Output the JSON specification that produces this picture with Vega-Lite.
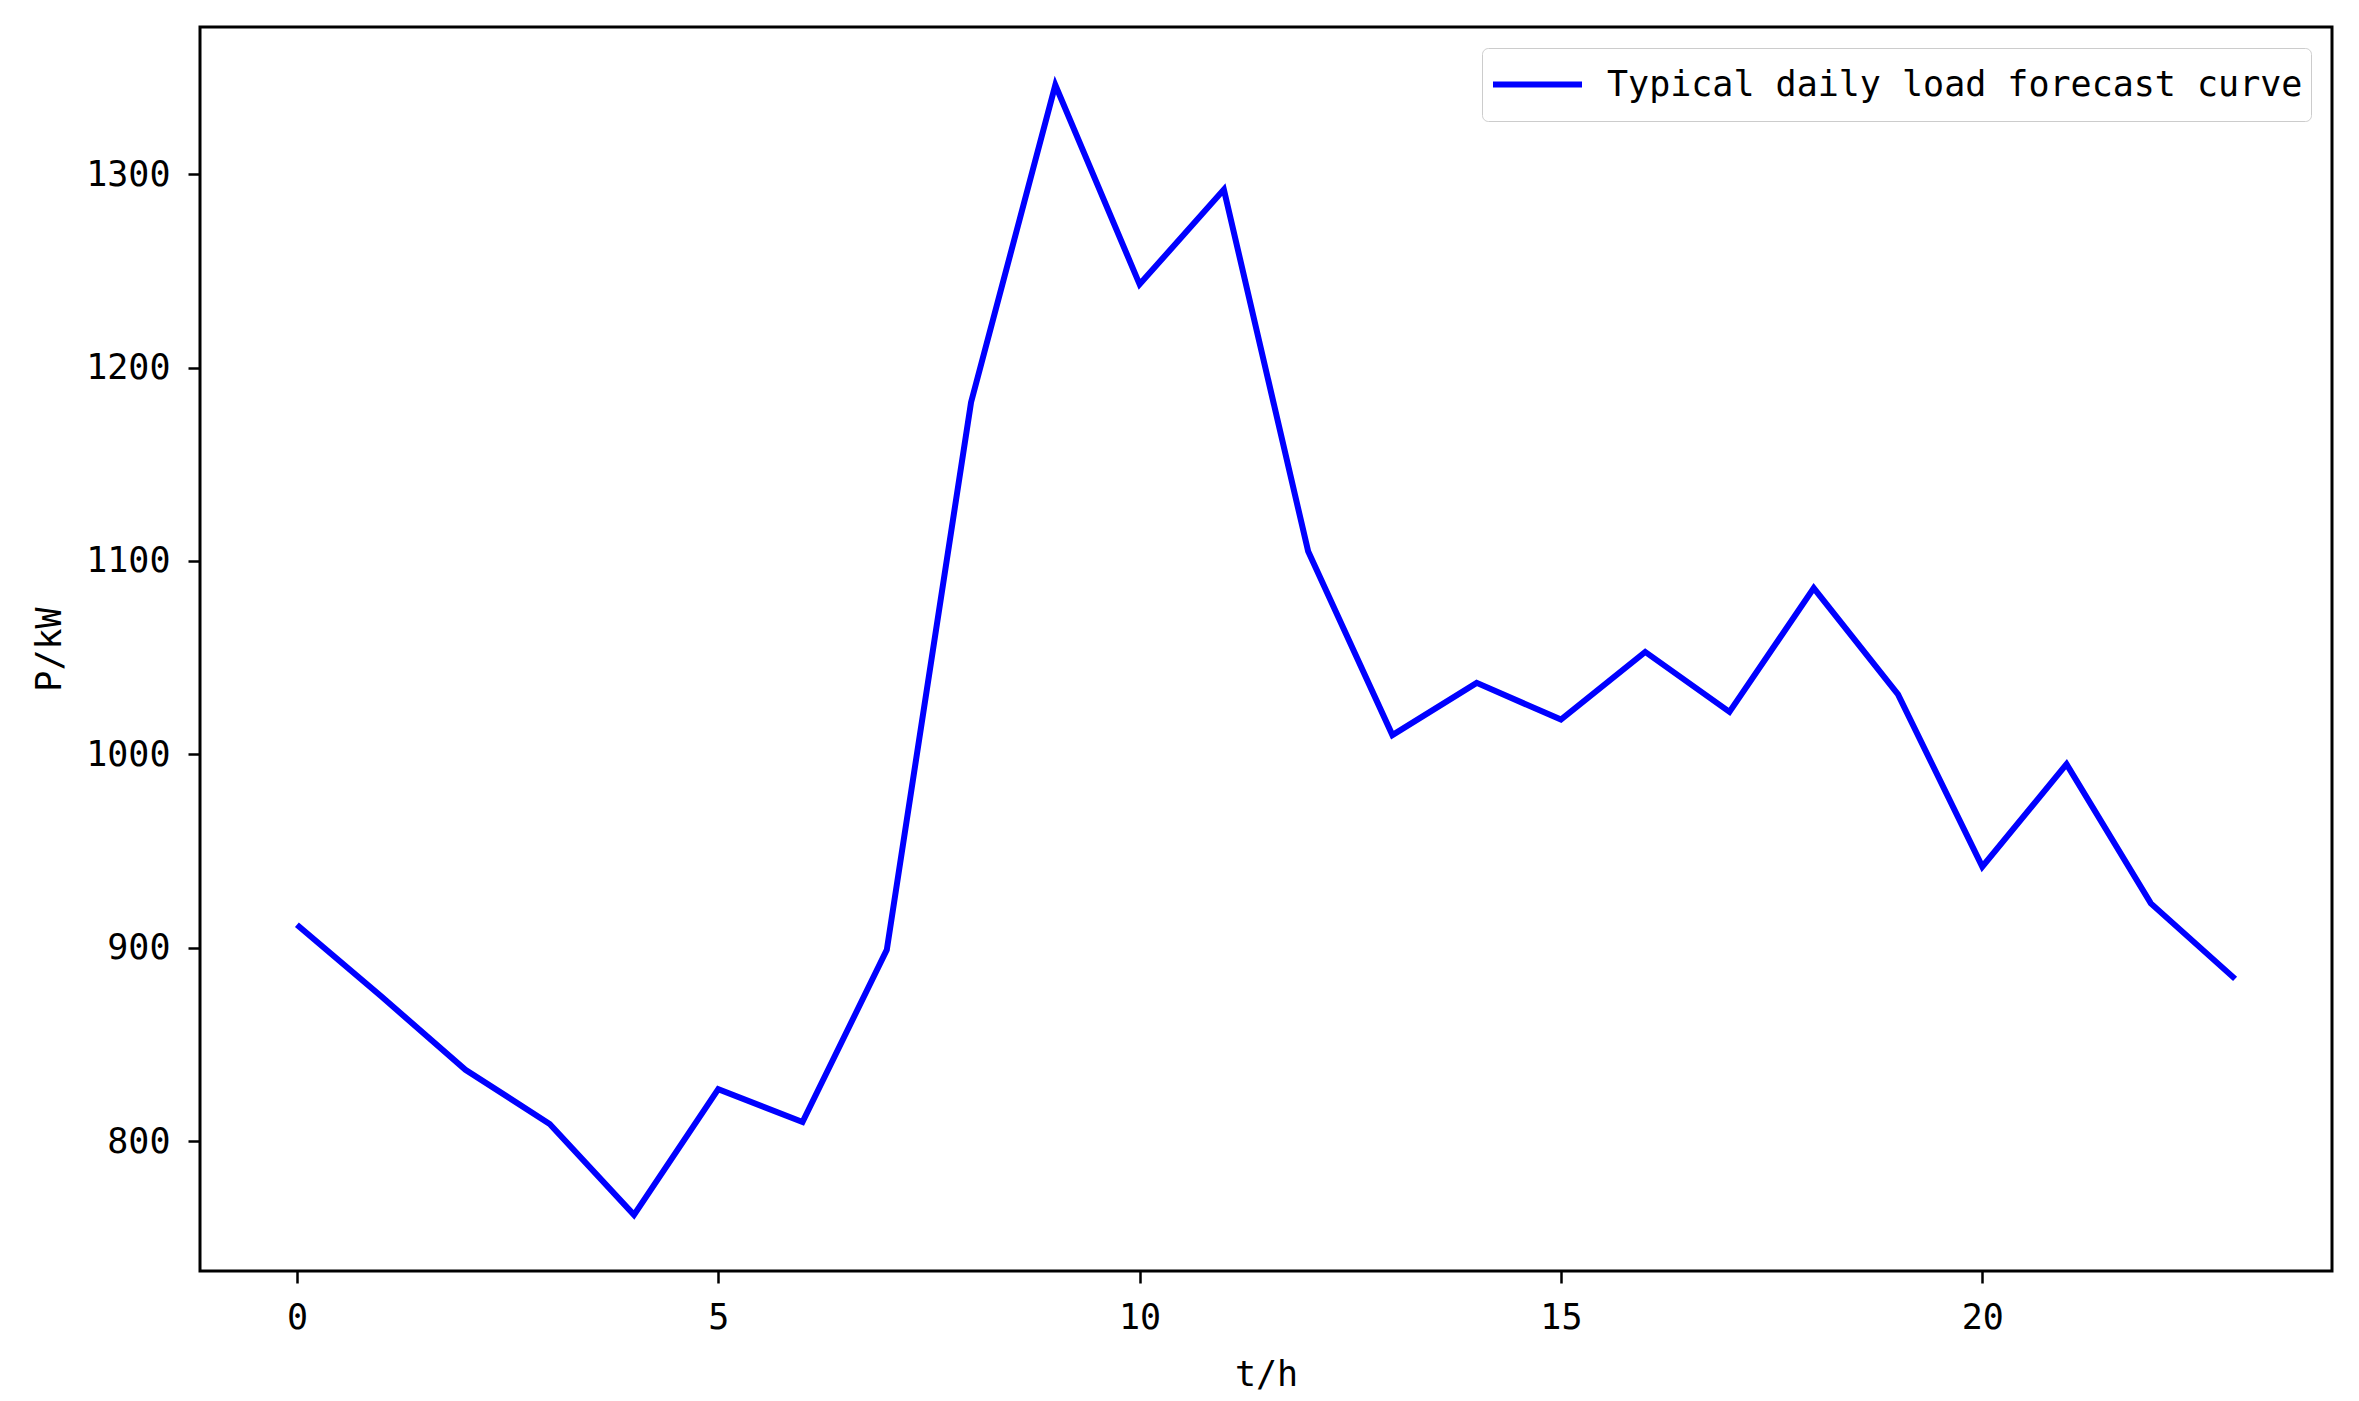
{
  "$schema": "https://vega.github.io/schema/vega-lite/v6.json",
  "autosize": "none",
  "padding": {"left": 200, "top": 27, "right": 27, "bottom": 130},
  "width": 2132,
  "height": 1244,
  "background": "white",
  "data": {
    "values": [
      {"t": 0, "P": 912, "series": "Typical daily load forecast curve"},
      {"t": 1, "P": 875, "series": "Typical daily load forecast curve"},
      {"t": 2, "P": 837, "series": "Typical daily load forecast curve"},
      {"t": 3, "P": 809, "series": "Typical daily load forecast curve"},
      {"t": 4, "P": 762, "series": "Typical daily load forecast curve"},
      {"t": 5, "P": 827, "series": "Typical daily load forecast curve"},
      {"t": 6, "P": 810, "series": "Typical daily load forecast curve"},
      {"t": 7, "P": 899, "series": "Typical daily load forecast curve"},
      {"t": 8, "P": 1182, "series": "Typical daily load forecast curve"},
      {"t": 9, "P": 1346, "series": "Typical daily load forecast curve"},
      {"t": 10, "P": 1243, "series": "Typical daily load forecast curve"},
      {"t": 11, "P": 1292, "series": "Typical daily load forecast curve"},
      {"t": 12, "P": 1105, "series": "Typical daily load forecast curve"},
      {"t": 13, "P": 1010, "series": "Typical daily load forecast curve"},
      {"t": 14, "P": 1037, "series": "Typical daily load forecast curve"},
      {"t": 15, "P": 1018, "series": "Typical daily load forecast curve"},
      {"t": 16, "P": 1053, "series": "Typical daily load forecast curve"},
      {"t": 17, "P": 1022, "series": "Typical daily load forecast curve"},
      {"t": 18, "P": 1086, "series": "Typical daily load forecast curve"},
      {"t": 19, "P": 1031, "series": "Typical daily load forecast curve"},
      {"t": 20, "P": 942, "series": "Typical daily load forecast curve"},
      {"t": 21, "P": 995, "series": "Typical daily load forecast curve"},
      {"t": 22, "P": 923, "series": "Typical daily load forecast curve"},
      {"t": 23, "P": 884, "series": "Typical daily load forecast curve"}
    ]
  },
  "mark": {"type": "line", "strokeWidth": 6, "strokeJoin": "miter"},
  "encoding": {
    "x": {
      "field": "t", "type": "quantitative",
      "scale": {"domain": [-1.15, 24.15], "nice": false, "zero": false},
      "axis": {"title": "t/h", "values": [0, 5, 10, 15, 20], "grid": false, "domain": false,
        "tickSize": 12, "tickWidth": 2.5, "tickColor": "black", "labelPadding": 17,
        "titlePadding": 22, "labelFlush": false, "format": "d"}
    },
    "y": {
      "field": "P", "type": "quantitative",
      "scale": {"domain": [733, 1376], "nice": false, "zero": false},
      "axis": {"title": "P/kW", "values": [800, 900, 1000, 1100, 1200, 1300], "grid": false, "domain": false,
        "tickSize": 12, "tickWidth": 2.5, "tickColor": "black", "labelPadding": 18,
        "titlePadding": 18, "labelFlush": false, "format": "d"}
    },
    "color": {
      "field": "series", "type": "nominal",
      "scale": {"range": ["#0000ff"]},
      "legend": {
        "title": null, "orient": "top-right", "offset": 21,
        "symbolType": "stroke", "symbolSize": 7921, "symbolStrokeWidth": 6,
        "clipHeight": 57,
        "labelFontSize": 35, "labelFont": "DejaVu Sans Mono", "labelColor": "black",
        "labelOffset": 22, "labelLimit": 1000,
        "padding": 8, "strokeColor": "#cccccc", "fillColor": "white", "cornerRadius": 6
      }
    }
  },
  "config": {
    "view": {"stroke": "black", "strokeWidth": 3},
    "axis": {
      "labelFont": "DejaVu Sans Mono", "labelFontSize": 35, "labelColor": "black",
      "titleFont": "DejaVu Sans Mono", "titleFontSize": 35, "titleFontWeight": "normal", "titleColor": "black"
    }
  }
}
